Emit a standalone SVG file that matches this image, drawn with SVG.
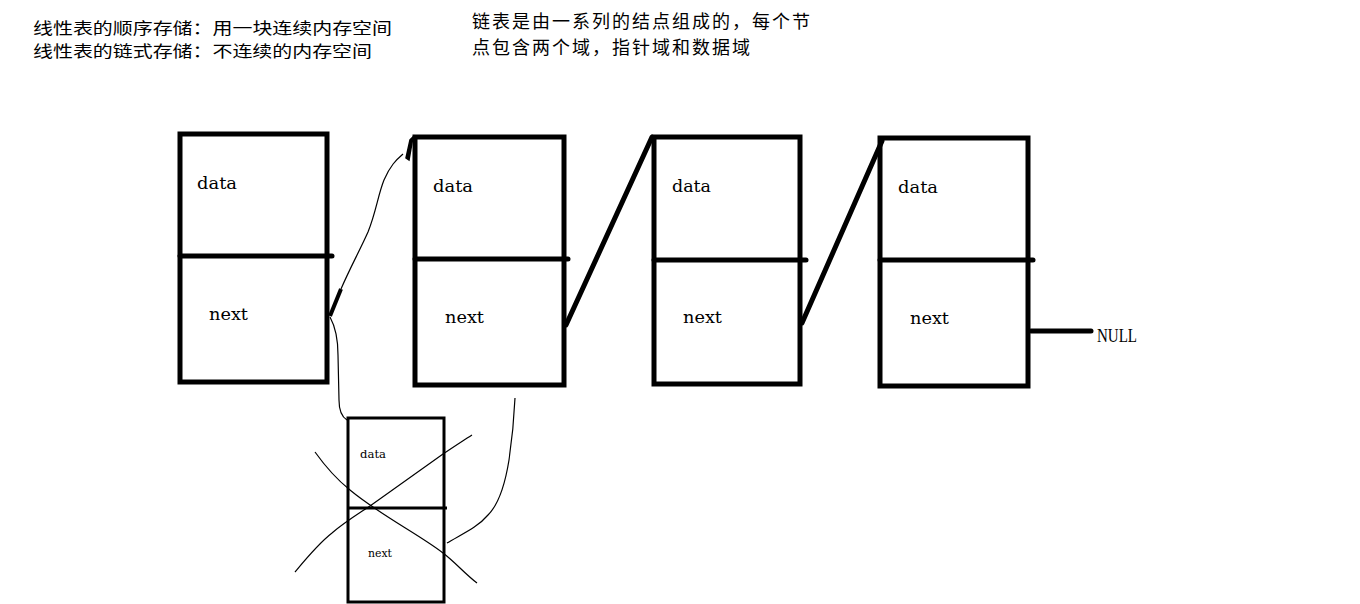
<svg xmlns="http://www.w3.org/2000/svg" width="1360" height="604" viewBox="0 0 1360 604">
<style>
.cjk{font-family:"Noto Sans CJK SC","Noto Sans CJK JP",sans-serif;font-size:18px;fill:#000}
.cjk2{font-family:"Noto Sans CJK SC","Noto Sans CJK JP",sans-serif;font-size:16px;fill:#000}
.box{fill:none;stroke:#000;stroke-width:5}
.div{stroke:#000;stroke-width:5;stroke-linecap:round}
.lbl{font-family:"DejaVu Serif","Liberation Serif",serif;font-size:16px;fill:#000}
.thick{stroke:#000;stroke-width:5;fill:none;stroke-linecap:round}
.thin{stroke:#000;stroke-width:1.2;fill:none}
.small{font-family:"DejaVu Serif","Liberation Serif",serif;font-size:11px;fill:#000}
</style>
<rect width="1360" height="604" fill="#fff"/>
<g id="notes">
<text class="cjk2" x="33" y="34" textLength="359" lengthAdjust="spacingAndGlyphs">线性表的顺序存储：用一块连续内存空间</text>
<text class="cjk2" x="33" y="57" textLength="339" lengthAdjust="spacingAndGlyphs">线性表的链式存储：不连续的内存空间</text>
<text class="cjk" x="472" y="28" textLength="338" lengthAdjust="spacing">链表是由一系列的结点组成的，每个节</text>
<text class="cjk" x="472" y="54" textLength="278" lengthAdjust="spacing">点包含两个域，指针域和数据域</text>
</g>
<g id="node1">
<rect class="box" x="180" y="134" width="147" height="248"/>
<line class="div" x1="180" y1="256" x2="332" y2="256"/>
<text class="lbl" x="197" y="189" textLength="40" lengthAdjust="spacingAndGlyphs">data</text>
<text class="lbl" x="209" y="320" textLength="39" lengthAdjust="spacingAndGlyphs">next</text>
</g>
<g id="node2">
<rect class="box" x="415" y="137" width="149" height="248"/>
<line class="div" x1="415" y1="259" x2="568" y2="259"/>
<text class="lbl" x="433" y="192" textLength="40" lengthAdjust="spacingAndGlyphs">data</text>
<text class="lbl" x="445" y="323" textLength="39" lengthAdjust="spacingAndGlyphs">next</text>
</g>
<g id="node3">
<rect class="box" x="654" y="137" width="146" height="247"/>
<line class="div" x1="654" y1="260" x2="806" y2="260"/>
<text class="lbl" x="672" y="192" textLength="39" lengthAdjust="spacingAndGlyphs">data</text>
<text class="lbl" x="683" y="323" textLength="39" lengthAdjust="spacingAndGlyphs">next</text>
</g>
<g id="node4">
<rect class="box" x="880" y="138" width="148" height="248"/>
<line class="div" x1="880" y1="260" x2="1033" y2="260"/>
<text class="lbl" x="898" y="193" textLength="40" lengthAdjust="spacingAndGlyphs">data</text>
<text class="lbl" x="910" y="324" textLength="39" lengthAdjust="spacingAndGlyphs">next</text>
</g>
<g id="null">
<text x="1097" y="342" font-family="Liberation Serif, serif" font-size="19" textLength="40" lengthAdjust="spacingAndGlyphs">NULL</text>
</g>
<g id="node5">
<rect x="348" y="418" width="96" height="184" fill="none" stroke="#000" stroke-width="3"/>
<line x1="348" y1="508" x2="447" y2="508" stroke="#000" stroke-width="3"/>
<text class="small" x="360" y="458" textLength="26" lengthAdjust="spacingAndGlyphs">data</text>
<text class="small" x="368" y="557" textLength="24" lengthAdjust="spacingAndGlyphs">next</text>
</g>
<g id="connectors">
<line class="thick" x1="566" y1="325" x2="652" y2="137"/>
<line class="thick" x1="802" y1="323" x2="882" y2="141"/>
<line class="thick" x1="1031" y1="331" x2="1091" y2="331"/>
<line x1="330" y1="316" x2="341" y2="289" stroke="#000" stroke-width="4"/>
<path class="thin" d="M341,289 C350,268 360,250 368,232 C376,212 378,195 384,180 C390,166 396,160 403,154"/>
<polygon points="413,137 409,160 406,158 410,140" fill="#000" stroke="#000" stroke-width="1.5"/>
<path class="thin" d="M330,317 C336,328 338,340 338,355 L339,400 C339,410 342,417 347,420"/>
<path class="thin" d="M515,398 C514,420 512,440 509,460 C505,485 498,505 488,515 C478,527 462,534 447,543"/>
<path class="thin" d="M315,452 C325,466 335,478 350,490 C380,515 420,535 443,553 C455,562 465,574 477,583"/>
<path class="thin" d="M295,572 C305,560 318,544 332,533 C345,522 355,516 370,506 L443,454 C455,446 464,440 472,435"/>
</g>
</svg>
